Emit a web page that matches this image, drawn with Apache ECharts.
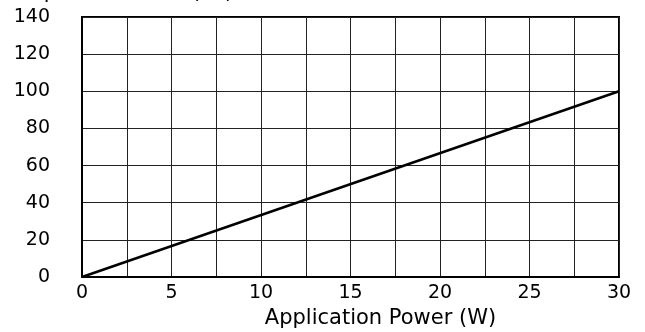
<!DOCTYPE html>
<html>
<head>
<meta charset="utf-8">
<script src="https://cdn.jsdelivr.net/npm/echarts@6/dist/echarts.min.js"></script>
<style>
html,body{margin:0;padding:0;background:#fff;}
#chart{width:645px;height:332px;}
</style>
</head>
<body>
<div id="chart"></div>
<script>
const powerW = [0, 30];
const tempRise = [0, 100];
const xTickLabels = ['0', '5', '10', '15', '20', '25', '30'];
const yTickLabels = ['0', '20', '40', '60', '80', '100', '120', '140'];
const xAxisTitle = 'Application Power (W)';
const yAxisTitle = 'Temperature Rise (°C)';

const FONT = 'DejaVu Sans';
const chart = echarts.init(document.getElementById('chart'), null, {renderer: 'canvas'});
chart.setOption({
  animation: false,
  backgroundColor: '#fff',
  grid: {left: 82, right: 26, top: 17, bottom: 55, show: true, borderColor: '#000', borderWidth: 2,
         containLabel: false, outerBoundsMode: 'none'},
  xAxis: {
    type: 'value', min: 0, max: 30, interval: 2.5,
    name: xAxisTitle, nameLocation: 'middle', nameGap: 20,
    nameTextStyle: {fontFamily: FONT, fontSize: 21, color: '#000', verticalAlign: 'top', padding: [0, 0, 0, 60]},
    axisLine: {show: true, lineStyle: {color: '#000', width: 2}},
    axisTick: {show: false},
    axisLabel: {
      fontFamily: FONT, fontSize: 19, color: '#000', margin: 7,
      formatter: v => { const s = String(v); return xTickLabels.includes(s) ? s : ''; }
    },
    splitLine: {show: true, lineStyle: {color: '#222', width: 1}}
  },
  yAxis: {
    type: 'value', min: 0, max: 140, interval: 20,
    name: yAxisTitle, nameLocation: 'end', nameGap: 14,
    nameTextStyle: {fontFamily: FONT, fontSize: 21, color: '#000', align: 'left', padding: [0, 0, 0, -81]},
    axisLine: {show: true, lineStyle: {color: '#000', width: 2}},
    axisTick: {show: false},
    axisLabel: {
      fontFamily: FONT, fontSize: 19, color: '#000', margin: 32,
      formatter: v => { const s = String(v); return yTickLabels.includes(s) ? s : ''; }
    },
    splitLine: {show: true, lineStyle: {color: '#222', width: 1}}
  },
  series: [{
    type: 'line',
    data: powerW.map((x, i) => [x, tempRise[i]]),
    showSymbol: false, symbol: 'none',
    lineStyle: {color: '#000', width: 2.5},
    silent: true
  }]
});
</script>
</body>
</html>
